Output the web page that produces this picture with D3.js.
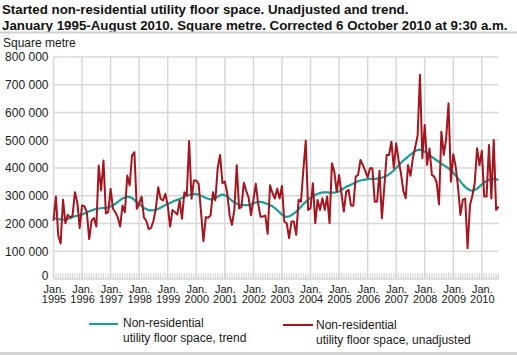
<!DOCTYPE html>
<html><head><meta charset="utf-8">
<script src="https://cdn.jsdelivr.net/npm/d3@7/dist/d3.min.js"></script>
<style>
body{margin:0;background:#fff;}
svg{display:block;font-family:"Liberation Sans",Arial,sans-serif;}
</style>
</head><body>
<svg id="chart" width="517" height="355"></svg>
<script>
// ---- DATA (thousand square metres), monthly Jan 1995 - Aug 2010 ----
const startYear = 1995;
const yearLabels = ["1995","1996","1997","1998","1999","2000","2001","2002","2003","2004","2005","2006","2007","2008","2009","2010"];
const yTickValues = [0,100000,200000,300000,400000,500000,600000,700000,800000];
const titleLines = ["Started non-residential utility floor space. Unadjusted and trend.",
  "January 1995-August 2010. Square metre. Corrected 6 October 2010 at 9:30 a.m."];
const yUnit = "Square metre";
const seriesNames = [["Non-residential","utility floor space, trend"],["Non-residential","utility floor space, unadjusted"]];

const trend = [
 219,218,216,215,214,214,216,219,223,226,228,230,
 232,236,240,244,247,250,253,254,255,256,256,258,
 261,266,271,278,284,290,294,297,295,292,285,277,
 270,263,256,252,248,247,248,250,253,257,262,266,
 270,274,278,282,285,288,292,296,300,303,306,307,
 306,304,300,296,292,289,287,288,292,297,302,304,
 302,297,290,282,276,271,268,266,266,266,266,268,
 272,276,278,278,276,273,270,266,262,256,248,240,
 232,226,224,226,230,236,243,251,260,270,278,286,
 292,298,303,307,310,312,312,312,311,311,311,313,
 316,321,327,332,336,340,344,348,352,355,357,358,
 360,361,361,361,362,363,365,368,372,377,384,392,
 400,409,418,427,434,441,448,455,461,465,466,464,
 459,453,446,440,434,428,422,416,410,405,399,392,
 383,373,362,351,341,332,325,320,318,320,326,333,
 341,348,353,357,359,360,359,357];

const unadjusted = [
 210,297,156,128,286,201,231,222,228,313,277,184,
 265,262,241,144,210,220,189,409,319,427,237,241,
 325,253,241,222,189,265,241,373,337,445,457,253,
 271,297,222,210,180,184,210,253,331,289,283,307,
 265,189,249,241,232,283,217,313,300,497,289,355,
 355,343,240,136,223,221,229,313,283,400,447,345,
 351,310,230,195,250,410,254,260,347,317,293,230,
 285,343,272,224,225,229,163,338,310,290,325,290,
 335,207,201,147,207,207,159,285,279,393,498,249,
 255,345,201,285,249,291,249,297,201,417,387,315,
 375,309,243,315,321,265,264,369,375,429,411,390,
 366,399,399,278,279,390,219,330,447,447,495,400,
 489,429,381,318,291,411,372,435,475,516,736,435,
 555,411,470,375,369,348,269,531,447,505,633,351,
 450,405,330,231,285,290,111,265,300,345,471,410,
 462,297,297,483,290,501,249,261];

const colors = {trend:"#1a9c98", unadjusted:"#a3161f", grid:"#d8d8d8", text:"#1a1a1a"};

// ---- LAYOUT ----
const svg = d3.select("#chart");
const W = 517, H = 355;
const plot = {left:53.5, right:498.5, top:57, bottom:279};

const x = d3.scaleLinear().domain([0, unadjusted.length-1]).range([plot.left, plot.right]);
const y = d3.scaleLinear().domain([0, 800000]).range([plot.bottom, plot.top]);

// Title
titleLines.forEach((t,i)=>{
  svg.append("text").attr("x",2).attr("y",14+i*15.5)
    .attr("font-size",13.3).attr("font-weight","bold").attr("fill","#111").text(t);
});
svg.append("rect").attr("x",0).attr("y",31.5).attr("width",W).attr("height",2).attr("fill","#cfcfcf");
svg.append("text").attr("x",3).attr("y",47).attr("font-size",12).attr("fill",colors.text).text(yUnit);

// Grid
const g = svg.append("g");
g.selectAll(".hg").data(yTickValues).join("line")
  .attr("x1",plot.left).attr("x2",plot.right)
  .attr("y1",d=>y(d)).attr("y2",d=>y(d))
  .attr("stroke",colors.grid).attr("stroke-width",1.5);
const yearIdx = yearLabels.map((_,i)=>i*12);
g.selectAll(".vg").data(yearIdx).join("line")
  .attr("x1",d=>x(d)).attr("x2",d=>x(d))
  .attr("y1",plot.top).attr("y2",plot.bottom)
  .attr("stroke",colors.grid).attr("stroke-width",1.5);

// monthly minor ticks
const months = d3.range(unadjusted.length);
g.selectAll(".mt").data(months).join("line")
  .attr("x1",d=>x(d)).attr("x2",d=>x(d))
  .attr("y1",plot.bottom-6).attr("y2",plot.bottom)
  .attr("stroke","#c8c8c8").attr("stroke-width",0.8);

// Y axis
const fmt = d3.formatLocale({thousands:"\u00a0", grouping:[3], decimal:",", currency:["",""]}).format(",d");
const yAxis = svg.append("g").attr("transform",`translate(${plot.left},0)`)
  .call(d3.axisLeft(y).tickValues(yTickValues).tickSize(0).tickPadding(5).tickFormat(fmt));
yAxis.select(".domain").remove();
yAxis.selectAll("text").attr("font-size",12).attr("fill",colors.text).attr("font-family","Liberation Sans, Arial, sans-serif");
yAxis.selectAll(".tick").filter(d=>d===0).select("text").attr("y",-3);

// X axis
const xAxis = svg.append("g").attr("transform",`translate(0,${plot.bottom})`)
  .call(d3.axisBottom(x).tickValues(yearIdx).tickSize(0).tickFormat(""));
xAxis.select(".domain").remove();
xAxis.selectAll(".tick").each(function(d,i){
  const t = d3.select(this).append("text").attr("fill",colors.text).attr("font-size",11)
    .attr("text-anchor","middle").attr("font-family","Liberation Sans, Arial, sans-serif");
  t.append("tspan").attr("x",0).attr("y",13.5).text("Jan.");
  t.append("tspan").attr("x",0).attr("y",24).text(yearLabels[i]);
});

// Lines
const lineGen = d3.line().x((d,i)=>x(i)).y(d=>y(d*1000));
svg.append("path").datum(trend).attr("d",lineGen).attr("fill","none")
  .attr("stroke",colors.trend).attr("stroke-width",2.2).attr("stroke-linejoin","round");
svg.append("path").datum(unadjusted).attr("d",lineGen).attr("fill","none")
  .attr("stroke",colors.unadjusted).attr("stroke-width",2).attr("stroke-linejoin","round");

// Legend
const legend = [
  {name:seriesNames[0], color:colors.trend, x1:89, x2:118, ly:324, tx:123, ty:327},
  {name:seriesNames[1], color:colors.unadjusted, x1:283, x2:313, ly:325, tx:316, ty:329}
];
legend.forEach(l=>{
  svg.append("line").attr("x1",l.x1).attr("x2",l.x2).attr("y1",l.ly).attr("y2",l.ly)
    .attr("stroke",l.color).attr("stroke-width",2);
  const t = svg.append("text").attr("font-size",12).attr("fill",colors.text);
  l.name.forEach((s,i)=> t.append("tspan").attr("x",l.tx).attr("y",l.ty+i*14.5).text(s));
});
svg.append("rect").attr("x",0).attr("y",352).attr("width",W).attr("height",3).attr("fill","#d4d4d4");
</script>
</body></html>
